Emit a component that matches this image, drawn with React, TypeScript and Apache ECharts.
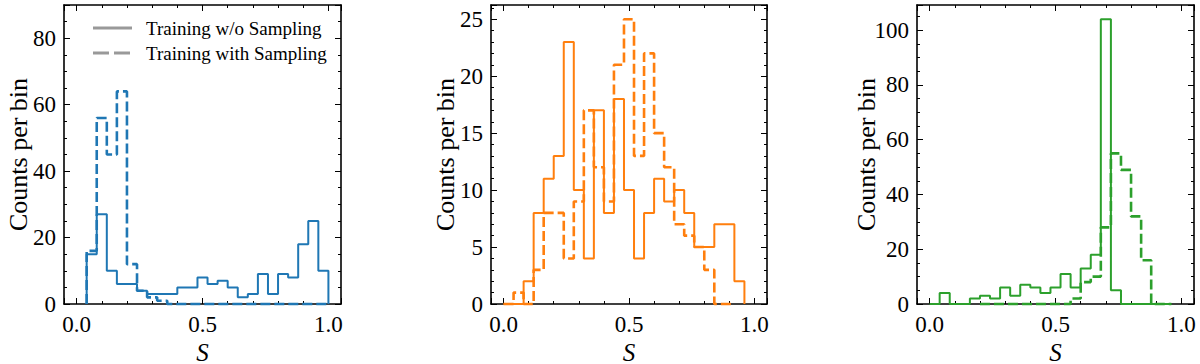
import React, { useEffect, useRef } from "react";
import * as echarts from "echarts";

// ---------------- data ----------------
const BIN_WIDTH = 0.04;
const X_TICK_LABELS = [0, 0.5, 1.0];

// Panel 1 (blue)
const blueSolidStart = 0.04;
const blueSolidCounts = [15, 27, 10, 6, 6, 4, 3, 3, 3, 5, 5, 8, 6, 7, 5, 2, 3, 9, 3, 9, 8, 18, 25, 10];
const blueDashedStart = 0.04;
const blueDashedCounts = [16, 56, 45, 64, 12, 4, 2, 1, 0, 0, 0, 0, 0, 0, 0, 0, 0, 0, 0, 0, 0, 0, 0, 0];

// Panel 2 (orange)
const orangeSolidStart = 0.0;
const orangeSolidCounts = [0, 0, 2, 8, 11, 13, 23, 10, 4, 17, 8, 18, 10, 4, 8, 11, 9, 10, 8, 5, 5, 7, 7, 2];
const orangeDashedStart = 0.0;
const orangeDashedCounts = [0, 1, 0, 3, 8, 8, 4, 9, 17, 12, 9, 21, 25, 13, 22, 15, 12, 7, 6, 5, 3, 0, 0];

// Panel 3 (green)
const greenSolidStart = 0.0;
const greenSolidCounts = [0, 4, 0, 0, 2, 3, 2, 6, 3, 7, 6, 4, 6, 11, 6, 13, 18, 104, 5, 0, 0, 0, 0, 0];
const greenDashedStart = 0.2;
const greenDashedCounts = [0, 0, 0, 0, 0, 0, 0, 0, 0, 2, 8, 10, 28, 55, 49, 32, 16, 0, 0];

const Y_MAX = [90, 26.25, 109.2];
const Y_INTERVAL = [20, 5, 20];
const Y_MINOR_SPLIT = [4, 5, 4];

const LEGEND_LABELS = ["Training w/o Sampling", "Training with Sampling"];
const Y_LABEL = "Counts per bin";
const X_LABEL = "S";

// ---------------- helpers ----------------
function stepOutline(start: number, counts: number[]): number[][] {
  const pts: number[][] = [];
  pts.push([start, 0]);
  counts.forEach((c, i) => {
    const x0 = +(start + i * BIN_WIDTH).toFixed(6);
    const x1 = +(start + (i + 1) * BIN_WIDTH).toFixed(6);
    pts.push([x0, c]);
    pts.push([x1, c]);
  });
  pts.push([+(start + counts.length * BIN_WIDTH).toFixed(6), 0]);
  return pts;
}

const FONT = "'Liberation Serif', 'Times New Roman', serif";

const PANELS = [
  { left: 64, width: 277, color: "#1f77b4", solid: [blueSolidStart, blueSolidCounts], dashed: [blueDashedStart, blueDashedCounts], labelX: 18 },
  { left: 491, width: 276, color: "#ff7f0e", solid: [orangeSolidStart, orangeSolidCounts], dashed: [orangeDashedStart, orangeDashedCounts], labelX: 445 },
  { left: 917, width: 277, color: "#2ca02c", solid: [greenSolidStart, greenSolidCounts], dashed: [greenDashedStart, greenDashedCounts], labelX: 866 },
];

const TOP = 5;
const HEIGHT = 299;

export default function App() {
  const ref = useRef<HTMLDivElement>(null);

  useEffect(() => {
    if (!ref.current) return;
    const chart = echarts.init(ref.current, undefined, { renderer: "svg" });

    const grids: any[] = [];
    const xAxes: any[] = [];
    const yAxes: any[] = [];
    const series: any[] = [];
    const graphics: any[] = [];

    const axisLine = { show: true, onZero: false, lineStyle: { color: "#000", width: 1.6 } };
    const tick = { show: true, inside: true, length: 6, lineStyle: { color: "#000", width: 1 } };

    PANELS.forEach((p, g) => {
      grids.push({ left: p.left, width: p.width, top: TOP, height: HEIGHT, containLabel: false });
      const xFmt = (v: number) =>
        X_TICK_LABELS.some((t) => Math.abs(t - v) < 1e-9) ? v.toFixed(1) : "";
      const xBase = {
        type: "value",
        gridIndex: g,
        min: -0.05,
        max: 1.05,
        splitNumber: 2,
        axisLine,
        axisTick: tick,
        minorTick: { show: true, splitNumber: 5, length: 3, lineStyle: { color: "#000", width: 1 } },
        splitLine: { show: false },
      };
      xAxes.push({
        ...xBase,
        position: "bottom",
        axisLabel: { show: true, interval: 0, margin: 9, formatter: xFmt, fontFamily: FONT, fontSize: 23, color: "#000" },
      });
      xAxes.push({ ...xBase, position: "top", axisLabel: { show: false } });

      const yi = Y_INTERVAL[g];
      const yFmt = (v: number) => (Math.abs(v / yi - Math.round(v / yi)) < 1e-9 ? String(Math.round(v)) : "");
      const yBase = {
        type: "value",
        gridIndex: g,
        min: 0,
        max: Y_MAX[g],
        interval: yi,
        axisLine,
        axisTick: tick,
        minorTick: { show: true, splitNumber: Y_MINOR_SPLIT[g], length: 3, lineStyle: { color: "#000", width: 1 } },
        splitLine: { show: false },
      };
      yAxes.push({
        ...yBase,
        position: "left",
        axisLabel: { show: true, interval: 0, margin: 8, formatter: yFmt, fontFamily: FONT, fontSize: 23, color: "#000" },
      });
      yAxes.push({ ...yBase, position: "right", axisLabel: { show: false } });

      const [ss, sc] = p.solid as [number, number[]];
      const [ds, dc] = p.dashed as [number, number[]];
      series.push({
        type: "line",
        name: LEGEND_LABELS[0],
        xAxisIndex: 2 * g,
        yAxisIndex: 2 * g,
        data: stepOutline(ss, sc),
        symbol: "none",
        clip: false,
        lineStyle: { color: p.color, width: 2 },
        z: 3,
      });
      series.push({
        type: "line",
        name: LEGEND_LABELS[1],
        xAxisIndex: 2 * g,
        yAxisIndex: 2 * g,
        data: stepOutline(ds, dc),
        symbol: "none",
        clip: false,
        lineStyle: { color: p.color, width: 2.6, type: [10, 4] },
        z: 4,
      });

      graphics.push({
        type: "text",
        x: p.labelX,
        y: TOP + HEIGHT / 2,
        rotation: Math.PI / 2,
        style: { text: Y_LABEL, font: `26px ${FONT}`, fill: "#000", textAlign: "center", textVerticalAlign: "middle" },
      });
      graphics.push({
        type: "text",
        x: p.left + p.width / 2,
        y: 352,
        style: { text: X_LABEL, font: `italic 25px ${FONT}`, fill: "#000", textAlign: "center", textVerticalAlign: "middle" },
      });
    });

    // legend (panel 1)
    graphics.push({ type: "line", shape: { x1: 93, y1: 28, x2: 132, y2: 28 }, style: { stroke: "#999", lineWidth: 3 } });
    graphics.push({ type: "line", shape: { x1: 93, y1: 53, x2: 132, y2: 53 }, style: { stroke: "#999", lineWidth: 3, lineDash: [16, 5] } });
    graphics.push({ type: "text", x: 146, y: 28, style: { text: LEGEND_LABELS[0], font: `19px ${FONT}`, fill: "#000", textVerticalAlign: "middle" } });
    graphics.push({ type: "text", x: 146, y: 53, style: { text: LEGEND_LABELS[1], font: `19px ${FONT}`, fill: "#000", textVerticalAlign: "middle" } });

    chart.setOption({
      animation: false,
      backgroundColor: "#fff",
      grid: grids,
      xAxis: xAxes,
      yAxis: yAxes,
      series,
      graphic: graphics,
    });

    return () => chart.dispose();
  }, []);

  return <div ref={ref} style={{ position: "fixed", left: 0, top: 0, width: 1200, height: 364 }} />;
}
